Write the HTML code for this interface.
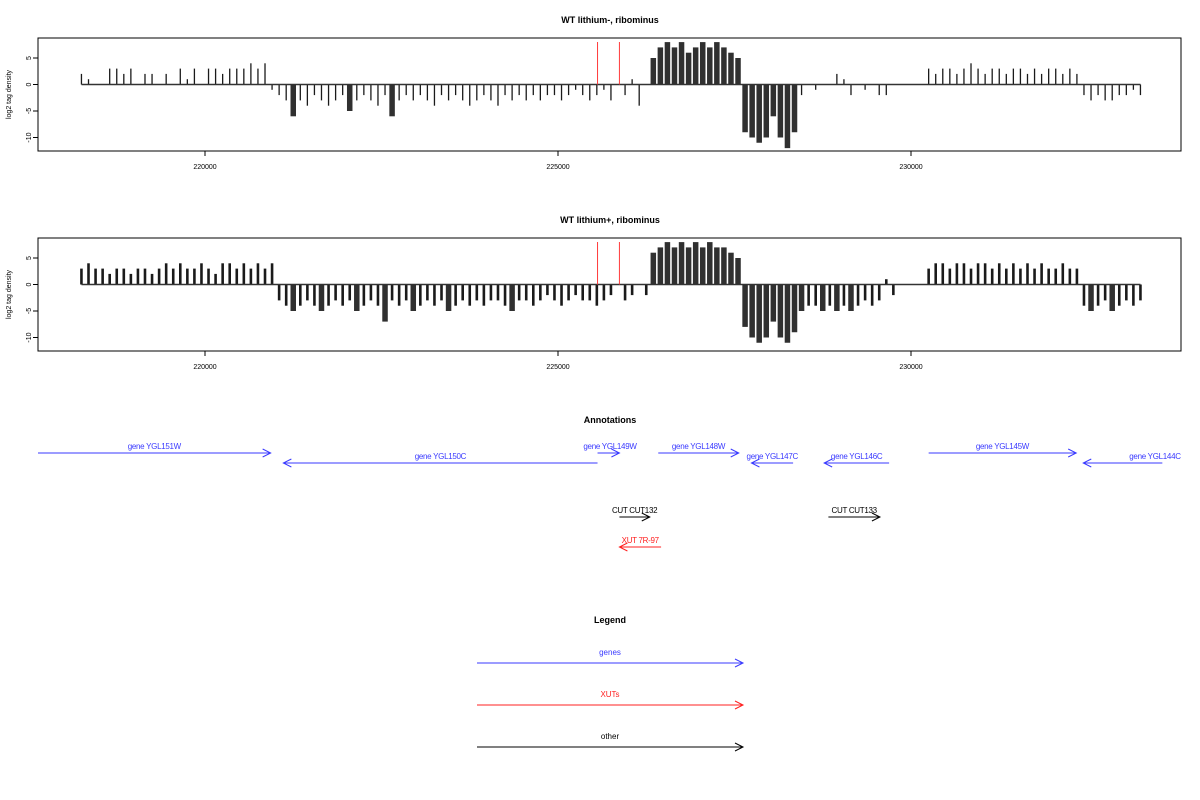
<!DOCTYPE html>
<html><head><meta charset="utf-8"><style>
html,body{margin:0;padding:0;background:#fff;}
svg{display:block;font-family:"Liberation Sans",sans-serif;}
</style></head><body>
<svg id="chart" width="1200" height="800" viewBox="0 0 1200 800"></svg>
<script>
// ---- data ----
const binStart = 218250;
const binStep = 100;
const xTicks = [220000, 225000, 230000];
const yTicks = [5, 0, -5, -10];
const markerPositions = [225560, 225870];
const valuesLithiumMinus = [2,1,0,0,3,3,2,3,0,2,2,0,2,0,3,1,3,0,3,3,2,3,3,3,4,3,4,-1,
-2,-3,-6,-3,-4,-2,-3,-4,-3,-2,-5,-3,-2,-3,-4,-2,-6,-3,-2,-3,-2,-3,-4,-2,-3,-2,-3,-4,-3,-2,-3,-4,-2,-3,-2,-3,-2,-3,-2,-2,-3,-2,-1,-2,-3,-2,
-1,-3,0,-2,1,-4,0,
5,7,8,7,8,6,7,8,7,8,7,6,5,
-9,-10,-11,-10,-6,-10,-12,-9,
-2,0,-1,0,0,2,1,-2,0,-1,0,-2,-2,0,0,0,0,0,
3,2,3,3,2,3,4,3,2,3,3,2,3,3,2,3,2,3,3,2,3,2,
-2,-3,-2,-3,-3,-2,-2,-1,-2];
const valuesLithiumPlus = [3,4,3,3,2,3,3,2,3,3,2,3,4,3,4,3,3,4,3,2,4,4,3,4,3,4,3,4,
-3,-4,-5,-4,-3,-4,-5,-4,-3,-4,-3,-5,-4,-3,-4,-7,-3,-4,-3,-5,-4,-3,-4,-3,-5,-4,-3,-4,-3,-4,-3,-3,-4,-5,-3,-3,-4,-3,-2,-3,-4,-3,-2,-3,-3,-4,
-3,-2,0,-3,-2,0,-2,
6,7,8,7,8,7,8,7,8,7,7,6,5,
-8,-10,-11,-10,-7,-10,-11,-9,
-5,-4,-4,-5,-4,-5,-4,-5,-4,-3,-4,-3,1,-2,
0,0,0,0,
3,4,4,3,4,4,3,4,4,3,4,3,4,3,4,3,4,3,3,4,3,3,
-4,-5,-4,-3,-5,-4,-3,-4,-3];
const annotLabels = ["gene YGL151W","gene YGL150C","gene YGL149W","gene YGL148W","gene YGL147C","gene YGL146C","gene YGL145W","gene YGL144C","CUT CUT132","CUT CUT133","XUT 7R-97"];
const annotStart = [217460,225560,225560,226420,228330,229690,230250,233560,225870,228830,226460];
const annotEnd   = [220930,221110,225870,227560,227740,228770,232340,232440,226300,229560,225870];
const annotRow   = [0,1,0,0,1,1,0,1,2,2,3];
const annotColor = ["#3a3aff","#3a3aff","#3a3aff","#3a3aff","#3a3aff","#3a3aff","#3a3aff","#3a3aff","#000","#000","#ff2020"];

// ---- drawing ----
const svg = document.getElementById('chart');
const NS = 'http://www.w3.org/2000/svg';
function el(tag, attrs, parent){const e=document.createElementNS(NS,tag);for(const k in attrs)e.setAttribute(k,attrs[k]);(parent||svg).appendChild(e);return e;}
const PL=38, PR=1181;
function xScale(g){return 205 + (g-220000)*0.0706;}
function txt(s,x,y,attrs,parent){const t=el('text',Object.assign({x:x,y:y,'text-anchor':'middle'},attrs),parent);t.textContent=s;return t;}

function panel(top, title, values, name, baseWidth){
  const g = el('g',{});
  
  
  const zero = top + 46.5;
  const yS = v => zero - v*5.3;
  const t = txt(title, 610, top-15, {'font-size':9,'font-weight':'bold'}, g);
  
  
  const box = el('rect',{x:PL,y:top,width:PR-PL,height:113,fill:'none',stroke:'#000','stroke-width':1},g);
  
  
  values.forEach((v,i)=>{
    if(v===0) return;
    const x = xScale(binStart + i*binStep);
    const w = Math.abs(v)>=5 ? 5.5 : baseWidth;
    const b = el('line',{x1:x,x2:x,y1:zero,y2:yS(v),stroke:'#1a1a1a','stroke-width':w,'stroke-opacity':Math.abs(v)>=5?0.9:1},g);
    
    
  });
  const zl = el('line',{x1:xScale(binStart),x2:xScale(binStart+(values.length-1)*binStep),y1:zero,y2:zero,stroke:'#333','stroke-width':1.5},g);
  
  
  markerPositions.forEach(m=>{
    const r = el('line',{x1:xScale(m),x2:xScale(m),y1:top+4,y2:zero,stroke:'#ff3a3a','stroke-width':1},g);
    
    
  });
  xTicks.forEach(tv=>{
    const x=xScale(tv);
    const tk = el('line',{x1:x,x2:x,y1:top+113,y2:top+118,stroke:'#000'},g);
    
    
    const tl = txt(String(tv), x, top+131, {'font-size':7}, g);
    
    
  });
  yTicks.forEach(tv=>{
    const y=yS(tv);
    const tk = el('line',{x1:PL-5,x2:PL,y1:y,y2:y,stroke:'#000'},g);
    
    
    const tl = txt(String(tv), 29, y, {'font-size':7,transform:'rotate(-90 29 '+y+')','dominant-baseline':'middle'}, g);
    
    
  });
  const yt = txt('log2 tag density', 9, zero+10, {'font-size':7,transform:'rotate(-90 9 '+(zero+10)+')','dominant-baseline':'middle'}, g);
  
  
}
panel(38, 'WT lithium-, ribominus', valuesLithiumMinus, 'panel-lithium-minus', 1.3);
panel(238, 'WT lithium+, ribominus', valuesLithiumPlus, 'panel-lithium-plus', 2.6);

function arrow(x1,x2,y,color,parent){
  el('line',{x1:x1,x2:x2,y1:y,y2:y,stroke:color,'stroke-width':1},parent);
  const d = x2>x1 ? -1 : 1;
  el('path',{d:'M'+(x2+d*8)+' '+(y-4)+' L'+x2+' '+y+' L'+(x2+d*8)+' '+(y+4),fill:'none',stroke:color,'stroke-width':1},parent);
}
const at = txt('Annotations', 610, 423, {'font-size':9,'font-weight':'bold'});


const rowY = [453,463,517,547];
annotLabels.forEach((lab,i)=>{
  const g = el('g',{});
  
  
  const x1 = Math.max(PL, Math.min(PR, xScale(annotStart[i])));
  const x2 = Math.max(PL, Math.min(PR, xScale(annotEnd[i])));
  const y = rowY[annotRow[i]];
  arrow(x1,x2,y,annotColor[i],g);
  let cx = (x1+x2)/2;
  if(lab==='gene YGL144C') cx = 1155;
  if(lab==='gene YGL149W') cx = 610;
  txt(lab, cx, y-4, {'font-size':8,fill:annotColor[i],'letter-spacing':'-0.3'}, g);
});
const lt = txt('Legend', 610, 623, {'font-size':9,'font-weight':'bold'});


const legendLabels = ['genes','XUTs','other'];
const legendColors = ['#3a3aff','#ff2020','#000'];
legendLabels.forEach((lab,i)=>{
  const g = el('g',{});
  
  
  const y = 663 + i*42;
  arrow(477,743,y,legendColors[i],g);
  txt(lab, 610, y-8, {'font-size':8,fill:legendColors[i]}, g);
});
</script>
</body></html>
